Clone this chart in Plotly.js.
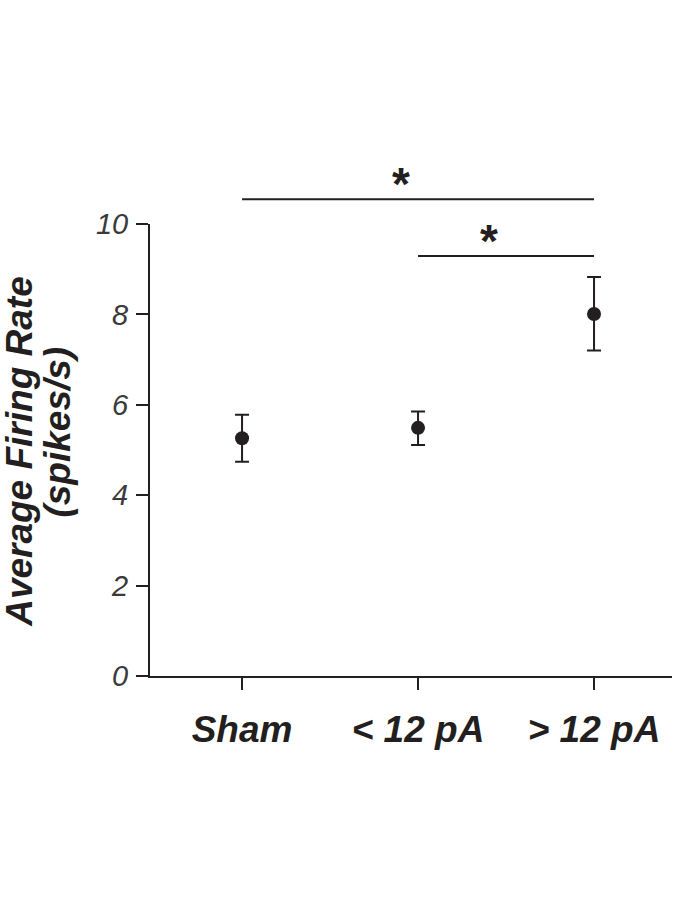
<!DOCTYPE html>
<html>
<head>
<meta charset="utf-8">
<script src="https://cdn.plot.ly/plotly-3.0.1.min.js"></script>
<style>
  html, body { margin: 0; padding: 0; background: #fff; }
  #chart { width: 700px; height: 906px; }
</style>
</head>
<body>
<div id="chart"></div>
<script>
groups = ["Sham", "< 12 pA", "> 12 pA"]
meanRate = [5.26, 5.49, 8.01]
errUp = [0.52, 0.36, 0.82]
errDown = [0.52, 0.38, 0.81]

// significance bars: [from group, to group, height in spikes/s]
sigFrom = [0, 1]
sigTo = [2, 2]
sigLevel = [10.55, 9.29]
sigLabel = ["*", "*"]

yTicks = [0, 2, 4, 6, 8, 10]
yMax = 10

ink = '#231f20'

let trace = {
  type: 'scatter',
  mode: 'markers',
  x: groups,
  y: meanRate,
  marker: { color: ink, size: 14 },
  error_y: {
    type: 'data',
    symmetric: false,
    array: errUp,
    arrayminus: errDown,
    color: ink,
    thickness: 2,
    width: 7
  },
  cliponaxis: false,
  showlegend: false,
  hoverinfo: 'x+y'
}

let shapes = []
let annotations = []
sigLevel.forEach((lvl, i) => {
  shapes.push({
    type: 'line',
    xref: 'x', yref: 'paper',
    x0: sigFrom[i], x1: sigTo[i],
    y0: lvl / yMax, y1: lvl / yMax,
    line: { color: ink, width: 2 }
  })
  annotations.push({
    xref: 'x', yref: 'paper',
    x: (sigFrom[i] + sigTo[i]) / 2,
    y: lvl / yMax,
    text: sigLabel[i],
    showarrow: false,
    xanchor: 'center', yanchor: 'middle',
    xshift: -17, yshift: 15,
    font: { family: 'Liberation Sans, Arial, sans-serif', size: 46, weight: 'bold', color: ink }
  })
})

// y title drawn as two lines so the line spacing can be kept tight
let titleFont = { family: 'Liberation Sans, Arial, sans-serif', size: 37, weight: 'bold', style: 'italic', color: ink }
annotations.push({
  xref: 'paper', yref: 'paper', x: -0.249, y: 0.496,
  text: 'Average Firing Rate', textangle: -90, showarrow: false,
  xanchor: 'center', yanchor: 'middle', font: titleFont
})
annotations.push({
  xref: 'paper', yref: 'paper', x: -0.177, y: 0.54,
  text: '(spikes/s)', textangle: -90, showarrow: false,
  xanchor: 'center', yanchor: 'middle', font: titleFont
})

Plotly.newPlot('chart', [trace], {
  width: 700,
  height: 906,
  margin: { l: 150, r: 28, t: 224, b: 230 },
  paper_bgcolor: '#fff',
  plot_bgcolor: '#fff',
  xaxis: {
    type: 'category',
    range: [-0.523, 2.443],
    showline: true, linecolor: ink, linewidth: 2,
    showgrid: false, zeroline: false,
    ticks: 'outside', ticklen: 12, tickwidth: 2, tickcolor: ink,
    ticklabelstandoff: 8,
    tickfont: { family: 'Liberation Sans, Arial, sans-serif', size: 37, weight: 'bold', style: 'italic', color: ink }
  },
  yaxis: {
    range: [0, yMax],
    tickvals: yTicks,
    showline: true, linecolor: ink, linewidth: 2,
    showgrid: false, zeroline: false,
    ticks: 'outside', ticklen: 12, tickwidth: 2, tickcolor: ink,
    ticklabelstandoff: 2,
    tickfont: { family: 'Liberation Sans, Arial, sans-serif', size: 29, style: 'italic', color: '#3a3a3a' }
  },
  shapes: shapes,
  annotations: annotations
}, { displayModeBar: false })
</script>
</body>
</html>
